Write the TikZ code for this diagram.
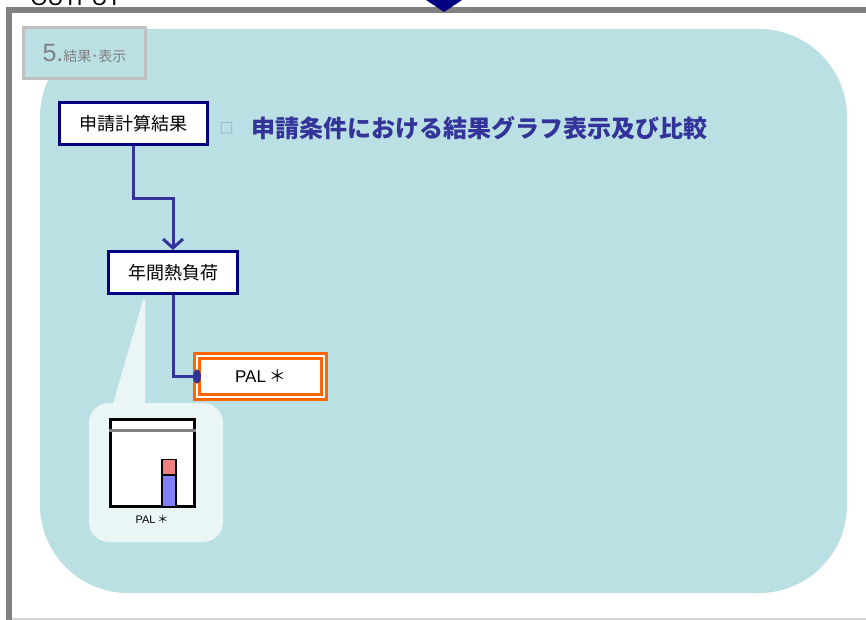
\documentclass[tikz,border=0pt]{standalone}
\usepackage{fontspec}
\setmainfont{Liberation Sans}
\newfontfamily\jp{Noto Sans CJK JP}
\usetikzlibrary{arrows.meta}
\definecolor{panelcyan}{HTML}{BAE0E3}
\definecolor{linkblue}{HTML}{333399}
\definecolor{navyline}{HTML}{000080}
\definecolor{palorange}{HTML}{FF6600}
\definecolor{framegray}{HTML}{808080}
\definecolor{taggray}{HTML}{C0C0C0}
\definecolor{calloutfill}{HTML}{EAF5F6}
\definecolor{barblue}{HTML}{8080FF}
\definecolor{barred}{HTML}{F08080}
\begin{document}
\begin{tikzpicture}[x=1pt,y=-1pt,
  box/.style={draw=navyline,line width=3pt,fill=white,minimum height=42pt,
    font=\jp\fontsize{18}{18}\selectfont},
  link/.style={draw=linkblue,line width=3pt}]
\useasboundingbox (0,0) rectangle (866,620);
\clip (0,0) rectangle (866,620);
% frame and panel
\node[anchor=base west,font=\fontsize{22}{22}\selectfont] (outlbl) at (27,6) {OUTPUT};
\draw[framegray,line width=6pt] (9,640) -- (9,10) -- (880,10);
\draw[taggray!70,line width=1.5pt] (12,619) -- (880,619);
\fill[navyline] (423,-2) -- (465,-2) -- (444,12) -- cycle;
\fill[panelcyan,rounded corners=88pt] (40,29) rectangle (847,593);
\node[draw=taggray,line width=3pt,fill=panelcyan,minimum width=122pt,minimum height=51pt,
      text=framegray,font=\fontsize{25}{25}\selectfont] (tag) at (84.5,53)
      {5.{\jp\fontsize{14}{14}\selectfont 結果･表示}};
% nodes
\node[box,minimum width=148pt] (calc) at (133.5,124) {申請計算結果};
\node[box,minimum width=129pt] (load) at (173,272.5) {年間熱負荷};
\node[text=linkblue!55,font=\jp\fontsize{14}{14}\selectfont] (bullet) at (226.5,128) {□};
\node[anchor=west,text=linkblue,font=\jp\bfseries\fontsize{24}{24}\selectfont] (title)
      at (248,128) {申請条件における結果グラフ表示及び比較};
\node[draw=palorange,double=white,line width=2.5pt,double distance=2.5pt,fill=white,
      outer sep=0pt,minimum width=127pt,minimum height=41pt,
      font=\fontsize{17}{17}\selectfont] (pal) at (260.5,376.5) {PAL\,{\jp ＊}};
% connectors
\draw[link,-{Straight Barb[length=9pt,width=20pt]}] (calc.south) -- ++(0,52) -| (load.north);
\draw[link] (load.south) |- (pal.west);
\fill[linkblue] (pal.west) ellipse (4 and 7);
% callout with small chart
\fill[calloutfill] (113,404) -- (143,300) -- (145,300) -- (145,404) -- cycle;
\fill[calloutfill,rounded corners=20pt] (89,403) rectangle (223,542);
\draw[line width=3pt,fill=white] (110.5,419.5) rectangle (194.5,506.5);
\draw[framegray,line width=3pt] (109,430) -- (196,430);
\draw[line width=1.2pt,fill=barblue] (162,475) rectangle (176,506.5);
\draw[line width=1.2pt,fill=barred] (162,459.5) rectangle (176,475);
\node[font=\fontsize{11}{11}\selectfont] (chartlbl) at (152,519) {PAL\,{\jp ＊}};
\end{tikzpicture}
\end{document}
